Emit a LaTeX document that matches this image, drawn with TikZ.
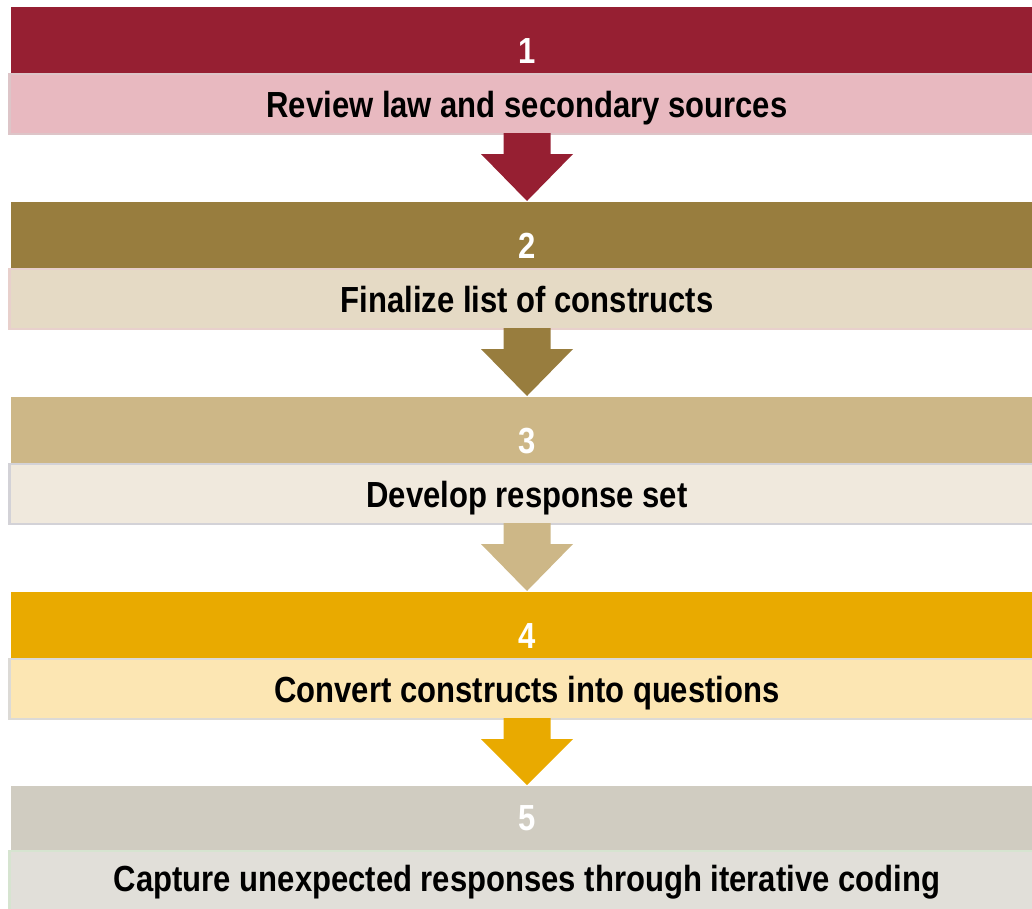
\documentclass[tikz,border=0pt]{standalone}
\usepackage{fontspec}
\setmainfont{Liberation Sans}[FakeStretch=0.855]
\usetikzlibrary{calc}
\definecolor{hdA}{HTML}{961F32}\definecolor{bgA}{HTML}{E8B9C0}\definecolor{brA}{HTML}{DDC5C8}
\definecolor{hdB}{HTML}{987D3E}\definecolor{bgB}{HTML}{E5DAC5}\definecolor{brB}{HTML}{E8D0CC}
\definecolor{hdC}{HTML}{CDB787}\definecolor{bgC}{HTML}{F0E9DD}\definecolor{brC}{HTML}{D3D2D7}
\definecolor{hdD}{HTML}{E9AA00}\definecolor{bgD}{HTML}{FCE6B3}\definecolor{brD}{HTML}{DCDAD6}
\definecolor{hdE}{HTML}{D0CCC1}\definecolor{bgE}{HTML}{E1DFD9}\definecolor{brE}{HTML}{D6E4D0}
\begin{document}
\begin{tikzpicture}[x=1pt,y=-1pt,
  header/.style={anchor=north west, minimum width=1032pt, inner sep=0pt, outer sep=0pt, draw=none},
  band/.style={anchor=north west, minimum width=1035pt, minimum height=60pt, inner sep=0pt, outer sep=0pt, line width=2.5pt},
  num/.style={anchor=base, text=white, font=\fontsize{36.3}{40}\selectfont\bfseries, inner sep=0pt},
  steptext/.style={anchor=base, text=black, font=\fontsize{36.3}{40}\selectfont\bfseries, inner sep=0pt}]
\useasboundingbox (0,0) rectangle (1032,908);
\foreach \i/\top/\hh/\nb/\tb/\c/\t in {1/7/67/56/43/A/Review law and secondary sources,
                           2/202/67/56/43/B/Finalize list of constructs,
                           3/397/67/56/43/C/Develop response set,
                           4/592/67/56/43/D/Convert constructs into questions,
                           5/786/65/44/40/E/Capture unexpected responses through iterative coding}{
  \node[header, minimum height=\hh pt, fill=hd\c] (h\i) at (11,\top) {};
  \node[band, fill=bg\c, draw=br\c] (b\i) at (9.5,\top+\hh) {};
  \node[num] (n\i) at ($(h\i.north)+(0,\nb)$) {\i};
  \node[steptext] (t\i) at ($(b\i.north)+(0,\tb)$) {\t};
}
\foreach \a/\b/\c in {1/2/A, 2/3/B, 3/4/C, 4/5/D}{
  \fill[hd\c] ($(b\a.south)+(-23.5,-1)$) -- ($(b\a.south)+(23.5,-1)$)
    -- ($(b\a.south)+(23.5,20)$) -- ($(b\a.south)+(46,20)$)
    -- ($(h\b.north)+(0,-1)$)
    -- ($(b\a.south)+(-46,20)$) -- ($(b\a.south)+(-23.5,20)$) -- cycle;
}
\end{tikzpicture}
\end{document}
